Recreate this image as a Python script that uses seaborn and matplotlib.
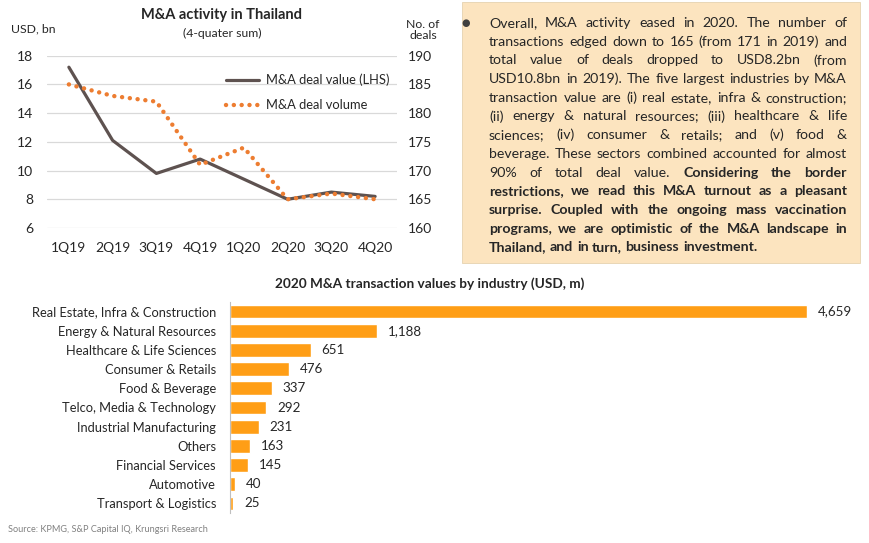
import matplotlib
matplotlib.use("Agg")
import matplotlib.pyplot as plt
from matplotlib.lines import Line2D
from matplotlib.patches import Rectangle
import seaborn as sns
import pandas as pd

quarters = ["1Q19", "2Q19", "3Q19", "4Q19", "1Q20", "2Q20", "3Q20", "4Q20"]
deal_value = [17.2, 12.1, 9.8, 10.8, 9.4, 8.0, 8.5, 8.2]
deal_volume = [185, 183, 182, 171, 174, 165, 166, 165]

industries = ["Real Estate, Infra & Construction", "Energy & Natural Resources",
              "Healthcare & Life Sciences", "Consumer & Retails", "Food & Beverage",
              "Telco, Media & Technology", "Industrial Manufacturing", "Others",
              "Financial Services", "Automotive", "Transport & Logistics"]
industry_value = [4659, 1188, 651, 476, 337, 292, 231, 163, 145, 40, 25]

# (text, bold) segments per line of the note box
note_lines = [
    [("Overall, M&A activity eased in 2020. The number of", False)],
    [("transactions edged down to 165 (from 171 in 2019) and", False)],
    [("total value of deals dropped to USD8.2bn (from", False)],
    [("USD10.8bn in 2019). The five largest industries by M&A", False)],
    [("transaction value are (i) real estate, infra & construction;", False)],
    [("(ii) energy & natural resources; (iii) healthcare & life", False)],
    [("sciences; (iv) consumer & retails; and (v) food &", False)],
    [("beverage. These sectors combined accounted for almost", False)],
    [("90% of total deal value.", False), ("Considering the border", True)],
    [("restrictions, we read this M&A turnout as a pleasant", True)],
    [("surprise. Coupled with the ongoing mass vaccination", True)],
    [("programs, we are optimistic of the M&A landscape in", True)],
    [("Thailand, and in turn, business investment.", True)],
]

W, H = 870, 543
FONT = "Lato"
TXT = "#262626"
LINE_C = "#5E5250"
DOT_C = "#ED7D31"
BAR_C = "#FF9E16"
GRID_C = "#D9D9D9"


def fx(px):
    return px / W


def fy(py):
    return 1 - py / H


def main():
    sns.set_style("white")
    plt.rcParams["font.family"] = [FONT, "DejaVu Sans"]
    plt.rcParams["text.color"] = TXT

    fig = plt.figure(figsize=(W / 100, H / 100), dpi=100)

    # ---- line chart ----
    ax = fig.add_axes([fx(47), fy(228), fx(397) - fx(47), (228 - 55.7) / H])
    df = pd.DataFrame({"q": quarters, "value": deal_value, "volume": deal_volume})
    sns.lineplot(data=df, x="q", y="value", ax=ax, color=LINE_C, linewidth=2.3)
    ax.set_ylim(6, 18)
    ax.set_yticks(range(6, 19, 2))
    ax.set_xlim(-0.5, len(quarters) - 0.5)
    ax.grid(axis="y", color=GRID_C, linewidth=0.9)
    ax.set_xlabel("")
    ax.set_ylabel("")
    for s in ax.spines.values():
        s.set_visible(False)
    ax.tick_params(axis="both", length=0, labelsize=10, colors=TXT)
    ax.tick_params(axis="x", pad=10)
    ax.tick_params(axis="y", pad=10)

    ax2 = ax.twinx()
    sns.lineplot(data=df, x="q", y="volume", ax=ax2, color=DOT_C, linewidth=3.2,
                 linestyle=(0, (0.01, 1.75)), dash_capstyle="round")
    ax2.set_ylim(160, 190)
    ax2.set_yticks(range(160, 191, 5))
    ax2.set_ylabel("")
    for s in ax2.spines.values():
        s.set_visible(False)
    ax2.tick_params(axis="both", length=0, labelsize=10, colors=TXT)
    ax2.tick_params(axis="y", pad=8)

    handles = [Line2D([], [], color=LINE_C, linewidth=2.3),
               Line2D([], [], color=DOT_C, linewidth=3.2,
                      linestyle=(0, (0.01, 1.75)), dash_capstyle="round")]
    ax2.legend(handles, ["M&A deal value (LHS)", "M&A deal volume"],
               loc="upper left", bbox_to_anchor=(fx(214), fy(62)),
               bbox_transform=fig.transFigure, frameon=False, fontsize=9.3,
               handlelength=2.6, labelspacing=1.0, handletextpad=0.5)

    fig.text(fx(222), fy(15), "M&A activity in Thailand", ha="center", va="center",
             fontsize=10.5, fontweight="bold")
    fig.text(fx(222), fy(33), "(4-quater sum)", ha="center", va="center", fontsize=8.8)
    fig.text(fx(11), fy(29), "USD, bn", ha="left", va="center", fontsize=8.8)
    fig.text(fx(423), fy(30), "No. of\ndeals", ha="center", va="center",
             fontsize=8.8, linespacing=1.0)

    # ---- note box ----
    fig.patches.append(Rectangle((fx(462), fy(263)), fx(860) - fx(462), (263 - 2) / H,
                                 transform=fig.transFigure, facecolor="#FCE4BF",
                                 edgecolor="#E6D2B0", linewidth=0.6, zorder=0))
    fig.text(fx(466), fy(23), "\u25cf", ha="center", va="center", fontsize=7,
             color="#404040", family="DejaVu Sans")

    fs = 10.2
    fig.canvas.draw()
    r = fig.canvas.get_renderer()

    def tw(s, bold):
        t = fig.text(0, 0, s, fontsize=fs, fontweight="bold" if bold else "normal")
        w = t.get_window_extent(r).width
        t.remove()
        return w

    x0, x1 = 489, 847
    sp = tw("a a", False) - tw("aa", False)
    for i, segs in enumerate(note_lines):
        y = 23 + i * 18.7
        words = [(w, b) for text, b in segs for w in text.split()]
        widths = [tw(w, b) for w, b in words]
        last = i == len(note_lines) - 1
        gap = sp if last else (x1 - x0 - sum(widths)) / (len(words) - 1)
        x = x0
        for (w, b), wd in zip(words, widths):
            fig.text(fx(x), fy(y), w, ha="left", va="center", fontsize=fs,
                     fontweight="bold" if b else "normal")
            x += wd + gap

    # ---- bar chart ----
    bx = fig.add_axes([fx(230), fy(513), fx(860) - fx(230), (513 - 302) / H])
    bdf = pd.DataFrame({"industry": industries, "value": industry_value})
    sns.barplot(data=bdf, x="value", y="industry", orient="h", color=BAR_C,
                saturation=1, width=0.72, ax=bx)
    bx.set_xlim(0, 4659 * 630 / 577)
    bx.set_ylim(len(industries) - 0.5, -0.5)
    bx.set_xlabel("")
    bx.set_ylabel("")
    bx.set_xticks([])
    for k, s in bx.spines.items():
        s.set_visible(k == "left")
    bx.spines["left"].set_color("#BFBFBF")
    bx.tick_params(axis="y", length=0, labelsize=9.3, colors=TXT, pad=10)
    bx.bar_label(bx.containers[0], labels=[f"{v:,}" for v in industry_value],
                 padding=8, fontsize=9.6, color=TXT)

    fig.text(fx(430), fy(284), "2020 M&A transaction values by industry (USD, m)",
             ha="center", va="center", fontsize=9.8, fontweight="bold")
    fig.text(fx(8), fy(530), "Source: KPMG, S&P Capital IQ, Krungsri Research",
             ha="left", va="center", fontsize=6.6, color="#808080")

    fig.savefig("out.png", dpi=100)


if __name__ == "__main__":
    main()
